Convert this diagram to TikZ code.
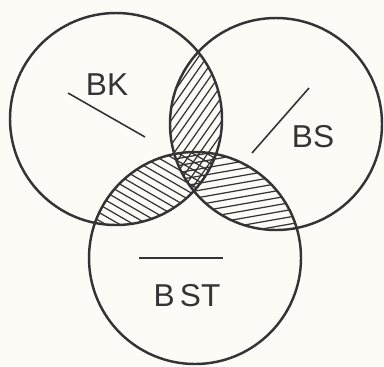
\documentclass[tikz,border=0pt]{standalone}
\usepackage{fontspec}
\setmainfont{Liberation Sans}
\usetikzlibrary{calc}
\definecolor{paper}{RGB}{252,251,246}
\definecolor{inkgray}{RGB}{52,52,52}

\begin{document}
\begin{tikzpicture}[x=0.02cm, y=-0.02cm,
    ring/.style={draw=inkgray, line width=1.4pt},
    hatch/.style={draw=inkgray, line width=0.7pt},
    tick/.style={draw=inkgray, line width=0.9pt},
    lbl/.style={text=inkgray, inner sep=0pt, font=\fontsize{18}{21}\selectfont}]

  % ====== 1) paper ======
  \fill[paper] (0,0) rectangle (384,366);
  \useasboundingbox (0,0) rectangle (384,366);

  % ====== 2) centres and radius ======
  \pgfmathsetmacro{\r}{106}   % radius of every circle
  \pgfmathsetmacro{\gap}{7}   % distance between hatch lines
  \coordinate (K) at (116,119);   % BK
  \coordinate (S) at (276,124);   % BS
  \coordinate (T) at (195,258);   % BST

  % ====== 3) hatching of the pairwise overlaps ======
  \foreach \p/\q/\ang in {K/S/55, K/T/-30, S/T/10} {
    \begin{scope}
      \clip (\p) circle (\r);
      \clip (\q) circle (\r);
      \begin{scope}[shift={($(\p)!0.5!(\q)$)}, rotate=\ang]
        \foreach \k in {-25,...,25}
          \draw[hatch] (-200,\k*\gap) -- (200,\k*\gap);
      \end{scope}
    \end{scope}
  }

  % ====== 4) circles ======
  \draw[ring] (K) circle (\r);
  \draw[ring] (S) circle (\r);
  \draw[ring] (T) circle (\r);

  % ====== 5) labels and their strokes ======
  \node[lbl] (bk) at (107,85) {BK};
  \coordinate (bk-a) at (68,93);
  \coordinate (bk-b) at (145,137);
  \draw[tick] (bk-a) -- (bk-b);

  \node[lbl] (bs) at (313,137) {BS};
  \coordinate (bs-a) at (252,153);
  \coordinate (bs-b) at (309,88);
  \draw[tick] (bs-a) -- (bs-b);

  \node[lbl] (bst) at (187,296) {B\,ST};
  \coordinate (bst-a) at (139,258);
  \coordinate (bst-b) at (223,258);
  \draw[tick] (bst-a) -- (bst-b);

\end{tikzpicture}
\end{document}
